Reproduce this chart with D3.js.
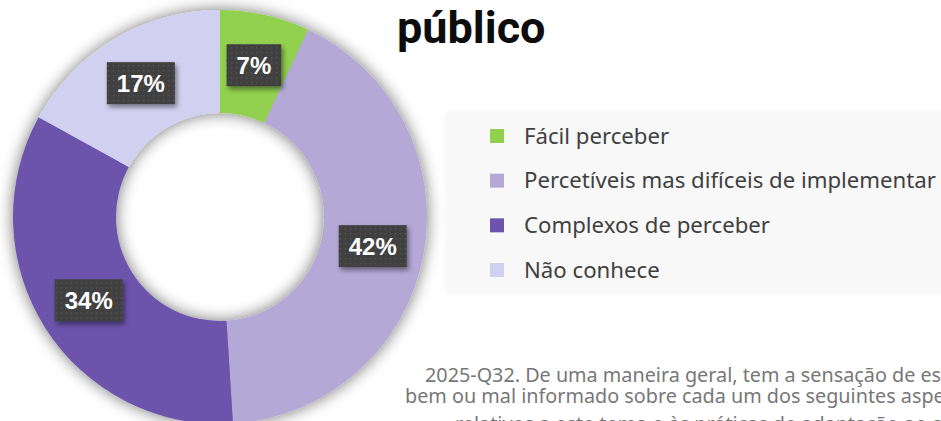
<!DOCTYPE html>
<html>
<head>
<meta charset="utf-8">
<script src="https://cdn.jsdelivr.net/npm/d3@7"></script>
<style>
  html, body { margin: 0; padding: 0; background: #fff; overflow: hidden; }
  svg { display: block; }
</style>
</head>
<body>
<svg id="chart"></svg>
<script>
// data
const categories = [
  'Fácil perceber',
  'Percetíveis mas difíceis de implementar',
  'Complexos de perceber',
  'Não conhece',
];
const values = [7, 42, 34, 17];
const colors = ['#92d050', '#b4a9d6', '#6c53ac', '#d1d0f0'];
const titleText = 'público';
const footnoteLines = [
  '2025-Q32. De uma maneira geral, tem a sensação de estar',
  'bem ou mal informado sobre cada um dos seguintes aspetos',
  'relativos a este tema e às práticas de adaptação ao ambiente',
];

const width = 941;
const height = 421;

const svg = d3.select('#chart').attr('width', width).attr('height', height);
const defs = svg.append('defs');

// soft shadow around the ring
const ringShadow = defs.append('filter')
  .attr('id', 'ring-shadow')
  .attr('x', '-20%').attr('y', '-20%')
  .attr('width', '140%').attr('height', '140%');
ringShadow.append('feGaussianBlur').attr('in', 'SourceAlpha').attr('stdDeviation', 8).attr('result', 'blur');
ringShadow.append('feComponentTransfer').attr('in', 'blur').attr('result', 'fade')
  .append('feFuncA').attr('type', 'linear').attr('slope', 0.55);
const rm = ringShadow.append('feMerge');
rm.append('feMergeNode').attr('in', 'fade');
rm.append('feMergeNode').attr('in', 'SourceGraphic');

// small shadow for label boxes
const boxShadow = defs.append('filter')
  .attr('id', 'box-shadow')
  .attr('x', '-30%').attr('y', '-30%')
  .attr('width', '160%').attr('height', '160%');
boxShadow.append('feGaussianBlur').attr('in', 'SourceAlpha').attr('stdDeviation', 2.5).attr('result', 'blur');
boxShadow.append('feOffset').attr('in', 'blur').attr('dx', 2).attr('dy', 3).attr('result', 'off');
boxShadow.append('feComponentTransfer').attr('in', 'off').attr('result', 'fade')
  .append('feFuncA').attr('type', 'linear').attr('slope', 0.45);
const bm = boxShadow.append('feMerge');
bm.append('feMergeNode').attr('in', 'fade');
bm.append('feMergeNode').attr('in', 'SourceGraphic');

// dotted fill of label boxes
const dots = defs.append('pattern')
  .attr('id', 'dots')
  .attr('patternUnits', 'userSpaceOnUse')
  .attr('width', 5).attr('height', 5);
dots.append('rect').attr('width', 5).attr('height', 5).attr('fill', '#404040');
dots.append('rect').attr('x', 2).attr('y', 2).attr('width', 1.3).attr('height', 1.3).attr('fill', '#595959');

// legend panel (behind everything)
const legendX = 447;
const legendY = 113;
const legendBg = defs.append('filter')
  .attr('id', 'legend-shadow')
  .attr('x', '-10%').attr('y', '-10%')
  .attr('width', '120%').attr('height', '120%');
legendBg.append('feGaussianBlur').attr('in', 'SourceAlpha').attr('stdDeviation', 4).attr('result', 'blur');
legendBg.append('feComponentTransfer').attr('in', 'blur').attr('result', 'fade')
  .append('feFuncA').attr('type', 'linear').attr('slope', 0.06);
const lm = legendBg.append('feMerge');
lm.append('feMergeNode').attr('in', 'fade');
lm.append('feMergeNode').attr('in', 'SourceGraphic');

svg.append('rect')
  .attr('x', legendX)
  .attr('y', legendY)
  .attr('width', width - legendX + 20)
  .attr('height', 179)
  .attr('fill', '#f8f8f8')
  .attr('filter', 'url(#legend-shadow)');

// donut
const cx = 220;
const cy = 217;
const outerR = 207;
const innerR = 104;

const pie = d3.pie().sort(null).value(d => d);
const arcs = pie(values);
const arc = d3.arc().innerRadius(innerR).outerRadius(outerR);

const g = svg.append('g').attr('transform', `translate(${cx},${cy})`);

g.append('g')
  .attr('filter', 'url(#ring-shadow)')
  .selectAll('path')
  .data(arcs)
  .enter()
  .append('path')
  .attr('d', arc)
  .attr('fill', (d, i) => colors[i]);

// percentage labels on dark boxes
const labelFont = '700 24px "Liberation Sans", Arial, sans-serif';
const labels = g.selectAll('.lbl')
  .data(arcs)
  .enter()
  .append('g')
  .attr('class', 'lbl')
  .attr('transform', d => {
    const [x, y] = arc.centroid(d);
    return `translate(${x},${y})`;
  });

labels.each(function (d) {
  const sel = d3.select(this);
  const txt = `${d.data}%`;
  const t = sel.append('text')
    .attr('text-anchor', 'middle')
    .attr('dy', '0.36em')
    .style('font', labelFont)
    .attr('fill', '#fff')
    .text(txt);
  const w = t.node().getComputedTextLength() + 20;
  const h = 42;
  sel.insert('rect', 'text')
    .attr('x', -w / 2)
    .attr('y', -h / 2)
    .attr('width', w)
    .attr('height', h)
    .attr('fill', 'url(#dots)')
    .attr('filter', 'url(#box-shadow)');
});

// title (cut off at top of the frame)
svg.append('text')
  .attr('x', 397)
  .attr('y', 43)
  .style('font', '700 45px Roboto, "Noto Sans", sans-serif')
  .attr('fill', '#0d0d0d')
  .text(titleText);

// legend entries
const legendRow = d3.scalePoint()
  .domain(categories)
  .range([136, 270]);

const items = svg.selectAll('.legend-item')
  .data(categories)
  .enter()
  .append('g')
  .attr('class', 'legend-item')
  .attr('transform', d => `translate(490,${legendRow(d)})`);

items.append('rect')
  .attr('x', 0)
  .attr('y', -7)
  .attr('width', 14)
  .attr('height', 14)
  .attr('fill', (d, i) => colors[i]);

items.append('text')
  .attr('x', 34)
  .attr('dy', '0.35em')
  .style('font', '400 22.2px "Noto Sans", "Open Sans", sans-serif')
  .attr('fill', '#404040')
  .text(d => d);

// footnote (runs past the right edge, last line mostly below the frame)
const footX = [425, 405, 455];
const footY = [382, 403, 431];
svg.selectAll('.foot')
  .data(footnoteLines)
  .enter()
  .append('text')
  .attr('class', 'foot')
  .attr('x', (d, i) => footX[i])
  .attr('y', (d, i) => footY[i])
  .style('font', '400 19.8px "Noto Sans", "Open Sans", sans-serif')
  .attr('fill', '#777')
  .text(d => d);
</script>
</body>
</html>
